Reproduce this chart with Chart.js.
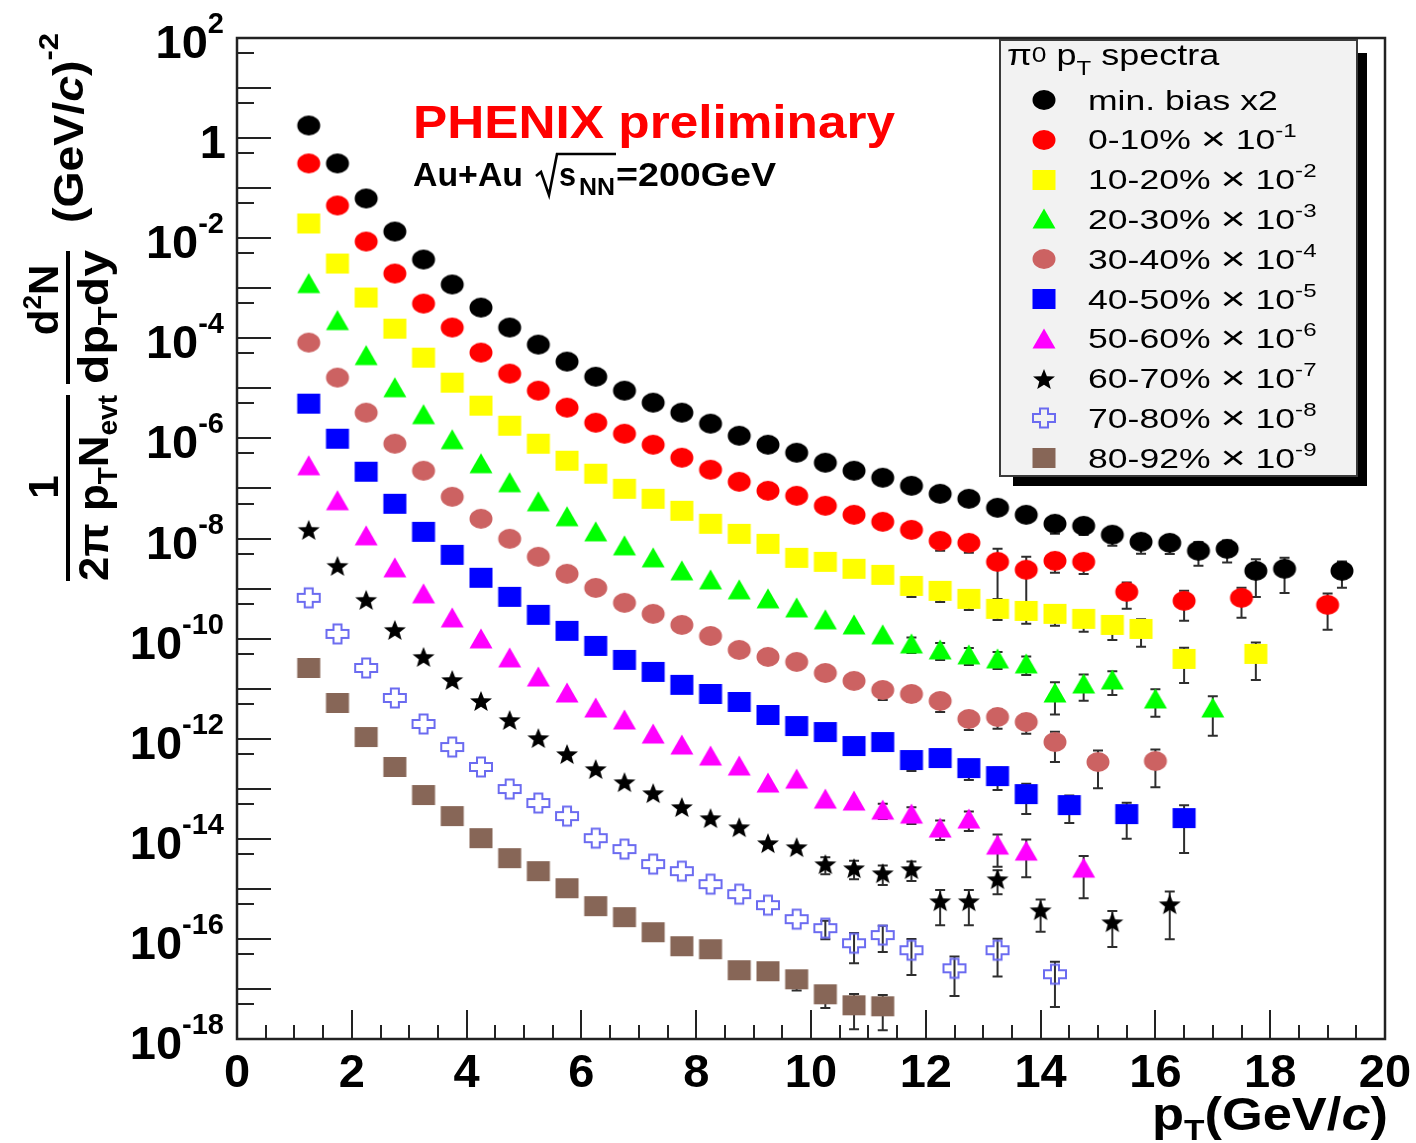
<!DOCTYPE html>
<html>
<head>
<meta charset="utf-8">
<title>Au+Au pi0 pT spectra</title>
<script src="https://cdn.jsdelivr.net/npm/chart.js@4.4.1/dist/chart.umd.min.js"></script>
<style>
  html, body { margin: 0; padding: 0; background: #ffffff; }
  #plot { display: block; }
</style>
</head>
<body>
<canvas id="plot" width="1416" height="1143"></canvas>
<script>
// ---------------------------------------------------------------
// Invariant pi0 yields vs pT, one series per centrality class.
// Values are already multiplied by the display factor in the legend.
// err* arrays hold the fractional uncertainty (0 = bar hidden by marker).
// ---------------------------------------------------------------
const ptMinBias = [1.25,1.75,2.25,2.75,3.25,3.75,4.25,4.75,5.25,5.75,6.25,6.75,7.25,7.75,8.25,8.75,9.25,9.75,10.25,10.75,11.25,11.75,12.25,12.75,13.25,13.75,14.25,14.75,15.25,15.75,16.25,16.75,17.25,17.75,18.25,19.25];
const yMinBias = [1.79,0.312,6.22e-2,1.36e-2,3.75e-3,1.19e-3,4.11e-4,1.64e-4,7.48e-5,3.42e-5,1.71e-5,8.99e-6,5.18e-6,3.27e-6,1.97e-6,1.13e-6,7.48e-7,5.18e-7,3.27e-7,2.26e-7,1.64e-7,1.13e-7,7.83e-8,6.22e-8,4.11e-8,2.98e-8,1.97e-8,1.79e-8,1.19e-8,8.59e-9,8.2e-9,5.68e-9,6.22e-9,2.26e-9,2.48e-9,2.26e-9];
const errMinBias = [0,0,0,0,0,0,0,0,0,0,0,0,0,0,0,0,0,0,0,0,0,0,0,0,0,0,0.37,0.34,0.40,0.42,0.40,0.50,0.47,0.70,0.67,0.54];

const pt0010 = [1.25,1.75,2.25,2.75,3.25,3.75,4.25,4.75,5.25,5.75,6.25,6.75,7.25,7.75,8.25,8.75,9.25,9.75,10.25,10.75,11.25,11.75,12.25,12.75,13.25,13.75,14.25,14.75,15.5,16.5,17.5,19.0];
const y0010 = [0.312,4.51e-2,8.59e-3,1.97e-3,4.94e-4,1.64e-4,5.18e-5,1.97e-5,8.99e-6,4.11e-6,2.06e-6,1.24e-6,7.48e-7,4.11e-7,2.37e-7,1.36e-7,8.99e-8,7.14e-8,4.51e-8,2.98e-8,2.16e-8,1.49e-8,8.99e-9,8.2e-9,3.42e-9,2.37e-9,3.58e-9,3.42e-9,8.59e-10,5.68e-10,6.52e-10,4.72e-10];
const err0010 = [0,0,0,0,0,0,0,0,0,0,0,0,0,0,0,0,0,0,0,0,0,0,0.37,0.37,0.82,0.82,0.42,0.43,0.54,0.60,0.60,0.68];

const pt1020 = [1.25,1.75,2.25,2.75,3.25,3.75,4.25,4.75,5.25,5.75,6.25,6.75,7.25,7.75,8.25,8.75,9.25,9.75,10.25,10.75,11.25,11.75,12.25,12.75,13.25,13.75,14.25,14.75,15.25,15.75,16.5,17.75];
const y1020 = [1.97e-2,3.12e-3,6.52e-4,1.56e-4,4.11e-5,1.30e-5,4.51e-6,1.79e-6,7.83e-7,3.58e-7,1.97e-7,9.86e-8,6.22e-8,3.58e-8,1.97e-8,1.24e-8,7.83e-9,4.11e-9,3.42e-9,2.48e-9,1.88e-9,1.13e-9,8.99e-10,6.22e-10,3.93e-10,3.58e-10,3.12e-10,2.48e-10,1.88e-10,1.56e-10,3.93e-11,4.94e-11];
const err1020 = [0,0,0,0,0,0,0,0,0,0,0,0,0,0,0,0,0,0,0,0,0,0.40,0.40,0.40,0.40,0.45,0.42,0.45,0.50,0.56,0.67,0.70];

const pt2030 = [1.25,1.75,2.25,2.75,3.25,3.75,4.25,4.75,5.25,5.75,6.25,6.75,7.25,7.75,8.25,8.75,9.25,9.75,10.25,10.75,11.25,11.75,12.25,12.75,13.25,13.75,14.25,14.75,15.25,16.0,17.0];
const y2030 = [1.24e-3,2.26e-4,4.51e-5,1.03e-5,2.98e-6,9.42e-7,3.12e-7,1.30e-7,5.42e-8,2.72e-8,1.36e-8,7.14e-9,4.11e-9,2.26e-9,1.49e-9,9.42e-10,6.22e-10,4.11e-10,2.37e-10,1.88e-10,1.19e-10,7.83e-11,5.94e-11,4.72e-11,3.93e-11,3.12e-11,8.2e-12,1.24e-11,1.49e-11,6.22e-12,4.11e-12];
const err2030 = [0,0,0,0,0,0,0,0,0,0,0,0,0,0,0,0,0,0,0,0,0,0.34,0.37,0.37,0.37,0.40,0.63,0.54,0.50,0.56,0.72];

const pt3040 = [1.25,1.75,2.25,2.75,3.25,3.75,4.25,4.75,5.25,5.75,6.25,6.75,7.25,7.75,8.25,8.75,9.25,9.75,10.25,10.75,11.25,11.75,12.25,12.75,13.25,13.75,14.25,15.0,16.0];
const y3040 = [8.2e-5,1.64e-5,3.27e-6,7.83e-7,2.26e-7,6.82e-8,2.48e-8,9.86e-9,4.31e-9,1.97e-9,1.03e-9,5.18e-10,3.12e-10,1.88e-10,1.13e-10,5.94e-11,4.31e-11,3.42e-11,2.06e-11,1.43e-11,9.42e-12,7.83e-12,5.68e-12,2.48e-12,2.72e-12,2.16e-12,8.59e-13,3.42e-13,3.58e-13];
const err3040 = [0,0,0,0,0,0,0,0,0,0,0,0,0,0,0,0,0,0,0,0,0.37,0.30,0.40,0.40,0.42,0.42,0.60,0.70,0.70];

const pt4050 = [1.25,1.75,2.25,2.75,3.25,3.75,4.25,4.75,5.25,5.75,6.25,6.75,7.25,7.75,8.25,8.75,9.25,9.75,10.25,10.75,11.25,11.75,12.25,12.75,13.25,13.75,14.5,15.5,16.5];
const y4050 = [4.94e-6,9.86e-7,2.16e-7,4.94e-8,1.36e-8,4.72e-9,1.64e-9,6.82e-10,2.98e-10,1.43e-10,7.14e-11,3.75e-11,2.16e-11,1.19e-11,7.83e-12,5.42e-12,2.98e-12,1.79e-12,1.36e-12,7.14e-13,8.59e-13,3.75e-13,4.11e-13,2.59e-13,1.79e-13,7.83e-14,4.72e-14,3.12e-14,2.59e-14];
const err4050 = [0,0,0,0,0,0,0,0,0,0,0,0,0,0,0,0,0,0,0,0,0,0.40,0.34,0.42,0.47,0.60,0.56,0.68,0.80];

const pt5060 = [1.25,1.75,2.25,2.75,3.25,3.75,4.25,4.75,5.25,5.75,6.25,6.75,7.25,7.75,8.25,8.75,9.25,9.75,10.25,10.75,11.25,11.75,12.25,12.75,13.25,13.75,14.75];
const y5060 = [2.84e-7,5.68e-8,1.13e-8,2.59e-9,7.83e-10,2.59e-10,9.86e-11,4.11e-11,1.71e-11,8.2e-12,4.11e-12,2.37e-12,1.24e-12,7.48e-13,4.51e-13,2.84e-13,1.30e-13,1.56e-13,6.22e-14,5.68e-14,3.75e-14,3.12e-14,1.64e-14,2.48e-14,7.48e-15,5.68e-15,2.59e-15];
const err5060 = [0,0,0,0,0,0,0,0,0,0,0,0,0,0,0,0,0,0,0,0,0.34,0.37,0.42,0.42,0.63,0.70,0.75];

const pt6070 = [1.25,1.75,2.25,2.75,3.25,3.75,4.25,4.75,5.25,5.75,6.25,6.75,7.25,7.75,8.25,8.75,9.25,9.75,10.25,10.75,11.25,11.75,12.25,12.75,13.25,14.0,15.25,16.25];
const y6070 = [1.49e-8,2.84e-9,5.94e-10,1.49e-10,4.31e-11,1.49e-11,5.68e-12,2.37e-12,1.03e-12,4.94e-13,2.48e-13,1.36e-13,8.2e-14,4.31e-14,2.59e-14,1.71e-14,8.2e-15,6.82e-15,3.12e-15,2.59e-15,2.06e-15,2.48e-15,5.68e-16,5.68e-16,1.56e-15,3.75e-16,2.16e-16,4.94e-16];
const err6070 = [0,0,0,0,0,0,0,0,0,0,0,0,0,0,0,0,0,0,0.37,0.40,0.42,0.42,0.67,0.67,0.50,0.63,0.68,0.80];

const pt7080 = [1.25,1.75,2.25,2.75,3.25,3.75,4.25,4.75,5.25,5.75,6.25,6.75,7.25,7.75,8.25,8.75,9.25,9.75,10.25,10.75,11.25,11.75,12.5,13.25,14.25];
const y7080 = [6.52e-10,1.24e-10,2.59e-11,6.52e-12,1.97e-12,6.82e-13,2.72e-13,9.86e-14,5.18e-14,2.84e-14,1.03e-14,6.22e-15,3.12e-15,2.26e-15,1.24e-15,7.83e-16,4.72e-16,2.48e-16,1.64e-16,8.2e-17,1.19e-16,5.94e-17,2.59e-17,5.94e-17,1.97e-17];
const err7080 = [0,0,0,0,0,0,0,0,0,0,0,0,0,0,0,0,0,0,0.40,0.60,0.54,0.68,0.72,0.70,0.78];

const pt8092 = [1.25,1.75,2.25,2.75,3.25,3.75,4.25,4.75,5.25,5.75,6.25,6.75,7.25,7.75,8.25,8.75,9.25,9.75,10.25,10.75,11.25];
const y8092 = [2.59e-11,5.18e-12,1.08e-12,2.72e-13,7.48e-14,2.84e-14,1.03e-14,4.11e-15,2.26e-15,1.03e-15,4.51e-16,2.72e-16,1.36e-16,7.14e-17,6.22e-17,2.37e-17,2.26e-17,1.56e-17,7.83e-18,4.72e-18,4.51e-18];
const err8092 = [0,0,0,0,0,0,0,0,0,0,0,0,0,0,0,0,0,0.40,0.47,0.67,0.67];

// legend text and display factors (power of ten)
const classLabels = ['min. bias x2','0-10%','10-20%','20-30%','30-40%','40-50%','50-60%','60-70%','70-80%','80-92%'];
const scaleExponents = [null,'-1','-2','-3','-4','-5','-6','-7','-8','-9'];

// axis labelling
const xTickLabels = [0,2,4,6,8,10,12,14,16,18,20];
const yLabelExponents = [2,0,-2,-4,-6,-8,-10,-12,-14,-16,-18];

// ---------------------------------------------------------------
// marker sprites (ROOT-like markers, slightly wider than tall)
// ---------------------------------------------------------------
function makeMarker(kind, color) {
  const c = document.createElement('canvas');
  c.width = 26; c.height = 24;
  const g = c.getContext('2d');
  const cx = 13, cy = 12;
  g.fillStyle = color; g.strokeStyle = color;
  g.beginPath();
  if (kind === 'circle') {
    g.ellipse(cx, cy, 11.5, 10, 0, 0, Math.PI * 2); g.fill();
  } else if (kind === 'square') {
    g.fillRect(cx - 11.5, cy - 10, 23, 20);
  } else if (kind === 'triangle') {
    g.moveTo(cx, cy - 10.5); g.lineTo(cx + 11.5, cy + 9.5); g.lineTo(cx - 11.5, cy + 9.5);
    g.closePath(); g.fill();
  } else if (kind === 'star') {
    for (let k = 0; k < 10; k++) {
      const R = (k % 2) ? 4.7 : 11;
      const a = -Math.PI / 2 + k * Math.PI / 5;
      g.lineTo(cx + 1.05 * R * Math.cos(a), cy + 1 + R * Math.sin(a));
    }
    g.closePath(); g.fill();
  } else if (kind === 'opencross') {
    const a = 4, lx = 11, ly = 9.5;
    const pts = [[-a,-ly],[a,-ly],[a,-a],[lx,-a],[lx,a],[a,a],[a,ly],[-a,ly],[-a,a],[-lx,a],[-lx,-a],[-a,-a]];
    pts.forEach((p, i) => i ? g.lineTo(cx + p[0], cy + p[1]) : g.moveTo(cx + p[0], cy + p[1]));
    g.closePath(); g.lineWidth = 2; g.stroke();
  }
  return c;
}

const markers = [
  makeMarker('circle', '#000000'),
  makeMarker('circle', '#ff0000'),
  makeMarker('square', '#ffff00'),
  makeMarker('triangle', '#00ff00'),
  makeMarker('circle', '#cc6262'),
  makeMarker('square', '#0000ff'),
  makeMarker('triangle', '#ff00ff'),
  makeMarker('star', '#000000'),
  makeMarker('opencross', '#6b6bf0'),
  makeMarker('square', '#876657')
];

const seriesPt = [ptMinBias, pt0010, pt1020, pt2030, pt3040, pt4050, pt5060, pt6070, pt7080, pt8092];
const seriesY = [yMinBias, y0010, y1020, y2030, y3040, y4050, y5060, y6070, y7080, y8092];
const seriesErr = [errMinBias, err0010, err1020, err2030, err3040, err4050, err5060, err6070, err7080, err8092];

const datasets = seriesPt.map((pts, s) => ({
  label: classLabels[s],
  data: pts.map((x, i) => ({ x: x, y: seriesY[s][i] })),
  relErr: seriesErr[s],
  pointStyle: markers[s],
  pointRadius: 11,
  showLine: false
}));

// ---------------------------------------------------------------
// text helpers: runs of text with their own font / vertical shift,
// optionally stretched horizontally by sx
// ---------------------------------------------------------------
function measureRuns(ctx, runs) {
  let w = 0;
  runs.forEach(r => { ctx.font = r.font; r._w = ctx.measureText(r.t).width; w += r._w; });
  return w;
}
function drawRuns(ctx, runs, x, y, align, sx) {
  sx = sx || 1;
  const total = measureRuns(ctx, runs) * sx;
  let start = x;
  if (align === 'right') start = x - total;
  else if (align === 'center') start = x - total / 2;
  ctx.save();
  ctx.translate(start, y);
  ctx.scale(sx, 1);
  ctx.textAlign = 'left';
  ctx.textBaseline = 'alphabetic';
  let cx = 0;
  runs.forEach(r => {
    ctx.font = r.font;
    ctx.fillStyle = r.color || '#000';
    ctx.fillText(r.t, cx, r.dy || 0);
    cx += r._w;
  });
  ctx.restore();
  return total;
}
function fitRuns(ctx, runs, x, y, width, align) {
  const w = measureRuns(ctx, runs);
  return drawRuns(ctx, runs, x, y, align || 'left', width / w);
}
// rotated (reading bottom to top); baseline at canvas x = bx, centred on canvas y = cy
function drawRotated(ctx, runs, bx, cy, length) {
  ctx.save();
  ctx.translate(bx, cy);
  ctx.rotate(-Math.PI / 2);
  if (length) fitRuns(ctx, runs, 0, 0, length, 'center');
  else drawRuns(ctx, runs, 0, 0, 'center', 1);
  ctx.restore();
}

const SANS = '"Liberation Sans", Arial, Helvetica, sans-serif';
const B = (px) => 'bold ' + px + 'px ' + SANS;
const R = (px) => px + 'px ' + SANS;

// ---------------------------------------------------------------
// plugins
// ---------------------------------------------------------------
const paperPlugin = {
  id: 'paper',
  beforeDraw(chart) {
    const ctx = chart.ctx;
    ctx.save();
    ctx.fillStyle = '#ffffff';
    ctx.fillRect(0, 0, chart.width, chart.height);
    ctx.restore();
  }
};

// error bars with end caps, drawn underneath the markers
const errorBarPlugin = {
  id: 'errorBars',
  beforeDatasetsDraw(chart) {
    const { ctx, chartArea } = chart;
    const xs = chart.scales.x, ys = chart.scales.y;
    ctx.save();
    ctx.beginPath();
    ctx.rect(chartArea.left, chartArea.top, chartArea.right - chartArea.left, chartArea.bottom - chartArea.top);
    ctx.clip();
    ctx.strokeStyle = '#2e2e2e';
    ctx.lineWidth = 2;
    chart.data.datasets.forEach(ds => {
      ds.data.forEach((p, i) => {
        const r = ds.relErr[i];
        if (!r) return;
        const px = xs.getPixelForValue(p.x);
        const top = ys.getPixelForValue(p.y * (1 + r));
        const lowVal = p.y * (1 - r);
        const bot = lowVal > ys.min ? ys.getPixelForValue(lowVal) : chartArea.bottom;
        ctx.beginPath();
        ctx.moveTo(px, top); ctx.lineTo(px, bot);
        ctx.moveTo(px - 5, top); ctx.lineTo(px + 5, top);
        ctx.moveTo(px - 5, bot); ctx.lineTo(px + 5, bot);
        ctx.stroke();
      });
    });
    ctx.restore();
  }
};

// frame, inward ticks and tick labels
const framePlugin = {
  id: 'frame',
  afterDatasetsDraw(chart) {
    const { ctx, chartArea } = chart;
    const xs = chart.scales.x, ys = chart.scales.y;
    const L = chartArea.left, Rt = chartArea.right, T = chartArea.top, Bt = chartArea.bottom;
    ctx.save();
    ctx.strokeStyle = '#222';
    ctx.lineWidth = 2;
    ctx.beginPath();
    // y ticks: every decade (long) and at 5 x 10^n (short)
    for (let e = -18; e <= 2; e++) {
      const yp = Math.round(ys.getPixelForValue(Math.pow(10, e)));
      ctx.moveTo(L, yp); ctx.lineTo(L + 34, yp);
      if (e > -18) {
        const ym = Math.round(ys.getPixelForValue(5 * Math.pow(10, e - 1)));
        ctx.moveTo(L, ym); ctx.lineTo(L + 17, ym);
      }
    }
    // x ticks: every 0.5 (short) and every 2 (long)
    for (let k = 1; k < 40; k++) {
      const v = k * 0.5;
      const xp = Math.round(xs.getPixelForValue(v));
      const len = (k % 4 === 0) ? 29 : 14;
      ctx.moveTo(xp, Bt); ctx.lineTo(xp, Bt - len);
    }
    ctx.stroke();
    ctx.lineWidth = 2.5;
    ctx.strokeRect(L, T, Rt - L, Bt - T);
    ctx.restore();

    // y tick labels
    yLabelExponents.forEach(e => {
      const yp = ys.getPixelForValue(Math.pow(10, e));
      if (e === 0) {
        drawRuns(ctx, [{ t: '1', font: B(47) }], 226, yp + 20, 'right');
      } else {
        drawRuns(ctx, [
          { t: '10', font: B(47) },
          { t: String(e), font: B(29), dy: -25 }
        ], 224, yp + 20, 'right');
      }
    });
    // x tick labels
    xTickLabels.forEach(v => {
      const xp = xs.getPixelForValue(v);
      drawRuns(ctx, [{ t: String(v), font: B(47) }], xp, 1087, 'center');
    });
  }
};

// titles, annotations and legend box
const annotationPlugin = {
  id: 'annotations',
  afterDraw(chart) {
    const ctx = chart.ctx;

    // x-axis title
    fitRuns(ctx, [
      { t: 'p', font: B(47) },
      { t: 'T', font: B(30), dy: 10 },
      { t: '(GeV/', font: B(47) },
      { t: 'c', font: 'italic ' + B(47) },
      { t: ')', font: B(47) }
    ], 1388, 1130, 236, 'right');

    // y-axis title: 1/(2pi pT Nevt) d2N/(dpT dy) (GeV/c)^-2
    ctx.fillStyle = '#000';
    drawRotated(ctx, [{ t: '1', font: B(42) }], 58, 487);
    ctx.fillRect(66, 395, 4, 186);
    drawRotated(ctx, [
      { t: '2', font: B(42) }, { t: 'π', font: B(42) }, { t: ' p', font: B(42) },
      { t: 'T', font: B(27), dy: 9 }, { t: 'N', font: B(42) }, { t: 'evt', font: B(27), dy: 9 }
    ], 108, 488, 186);
    drawRotated(ctx, [
      { t: 'd', font: B(42) }, { t: '2', font: B(26), dy: -17 }, { t: 'N', font: B(42) }
    ], 58, 300);
    ctx.fillRect(66, 251, 4, 133);
    drawRotated(ctx, [
      { t: 'dp', font: B(42) }, { t: 'T', font: B(27), dy: 9 }, { t: 'dy', font: B(42) }
    ], 108, 317, 134);
    drawRotated(ctx, [
      { t: '(GeV/', font: B(42) }, { t: 'c', font: 'italic ' + B(42) }, { t: ')', font: B(42) },
      { t: '-2', font: B(28), dy: -25 }
    ], 83, 128, 190);

    // experiment annotation
    fitRuns(ctx, [{ t: 'PHENIX preliminary', font: B(46), color: '#ff0000' }], 413, 138, 482);
    fitRuns(ctx, [{ t: 'Au+Au', font: B(34) }], 413, 186, 110);
    ctx.save();
    ctx.strokeStyle = '#000'; ctx.lineWidth = 2.6; ctx.lineJoin = 'miter';
    ctx.beginPath();
    ctx.moveTo(536, 176); ctx.lineTo(541, 172); ctx.lineTo(549, 195); ctx.lineTo(557, 154); ctx.lineTo(616, 154);
    ctx.stroke();
    ctx.restore();
    fitRuns(ctx, [{ t: 's', font: B(34) }], 559, 186, 17);
    fitRuns(ctx, [{ t: 'NN', font: B(24) }], 579, 195, 36);
    fitRuns(ctx, [{ t: '=200GeV', font: B(34) }], 616, 186, 160);

    // legend box with drop shadow
    ctx.save();
    ctx.fillStyle = '#000';
    ctx.fillRect(1013, 53, 354, 433);
    ctx.fillStyle = '#f2f2f2';
    ctx.fillRect(999, 39, 359, 438);
    ctx.strokeStyle = '#3a3a3a'; ctx.lineWidth = 2;
    ctx.strokeRect(1000, 40, 357, 436);
    ctx.restore();

    drawRuns(ctx, [
      { t: 'π', font: R(30) }, { t: '0', font: R(22), dy: -3 }, { t: ' p', font: R(30) },
      { t: 'T', font: R(20), dy: 10 }, { t: ' spectra', font: R(30) }
    ], 1007, 65, 'left', 1.2);

    classLabels.forEach((lab, k) => {
      const yc = 100 + k * 39.8;
      const m = markers[k];
      ctx.drawImage(m, Math.round(1044 - m.width / 2), Math.round(yc - m.height / 2));
      const runs = [{ t: lab, font: R(28) }];
      if (scaleExponents[k]) {
        runs.push({ t: ' ', font: R(28) });
        runs.push({ t: '\u00d7', font: R(34), dy: 1 });
        runs.push({ t: ' 10', font: R(28) });
        runs.push({ t: scaleExponents[k], font: R(19), dy: -12 });
      }
      drawRuns(ctx, runs, 1088, yc + 9.5, 'left', 1.27);
    });
  }
};

new Chart(document.getElementById('plot'), {
  type: 'scatter',
  data: { datasets: datasets },
  options: {
    responsive: false,
    animation: false,
    devicePixelRatio: 1,
    events: [],
    layout: { padding: { top: 38, right: 31, left: 0, bottom: 0 } },
    plugins: { legend: { display: false }, tooltip: { enabled: false } },
    scales: {
      x: {
        type: 'linear', min: 0, max: 20,
        grid: { display: false }, border: { display: false }, ticks: { display: false },
        afterFit(s) { s.height = 104; }
      },
      y: {
        type: 'logarithmic', min: 1e-18, max: 1e2,
        grid: { display: false }, border: { display: false }, ticks: { display: false },
        afterFit(s) { s.width = 237; }
      }
    }
  },
  plugins: [paperPlugin, errorBarPlugin, framePlugin, annotationPlugin]
});
</script>
</body>
</html>
